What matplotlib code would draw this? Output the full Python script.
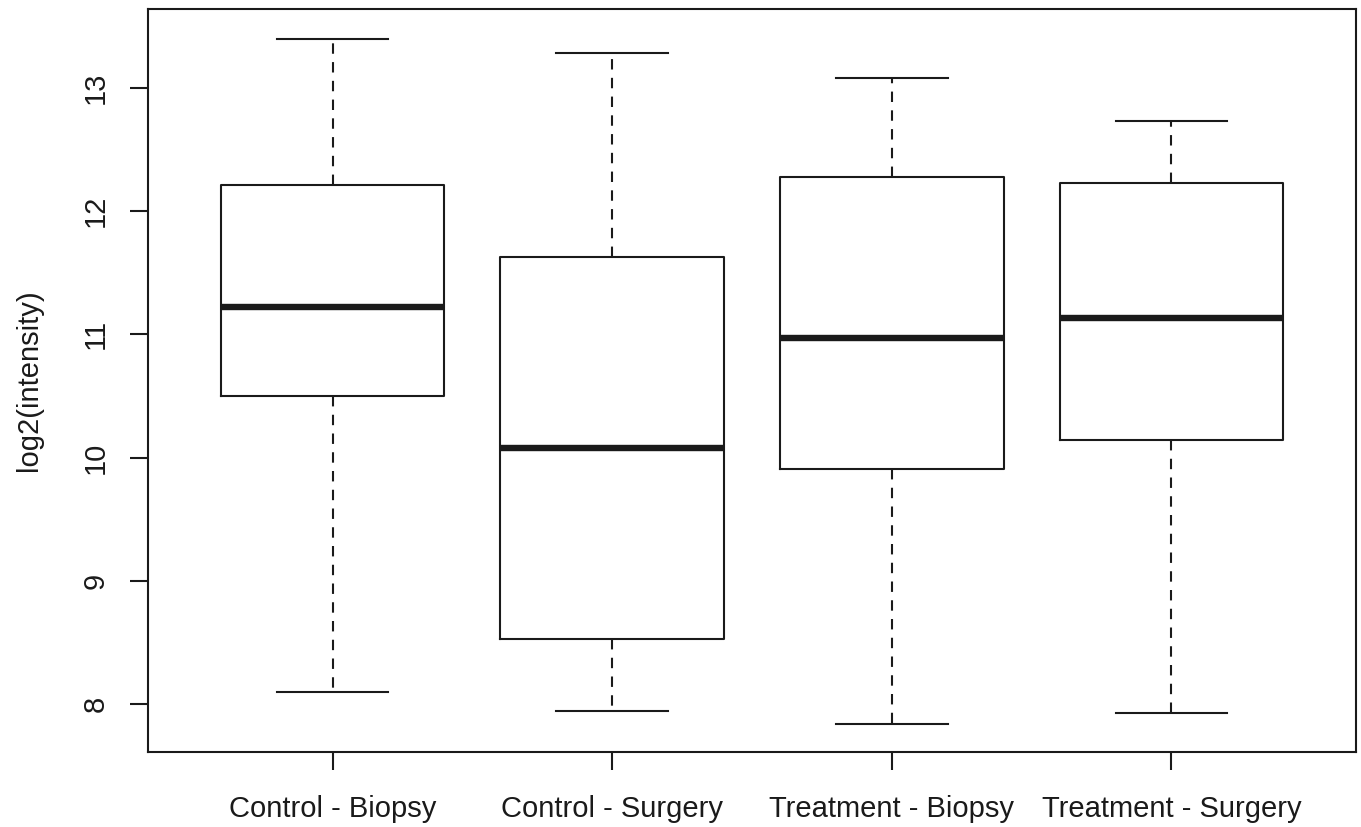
import matplotlib
matplotlib.use("Agg")
import matplotlib.pyplot as plt

groups = ["Control - Biopsy", "Control - Surgery", "Treatment - Biopsy", "Treatment - Surgery"]
whisker_lo = [8.10, 7.94, 7.84, 7.93]
q1 = [10.50, 8.53, 9.91, 10.14]
median = [11.22, 10.08, 10.97, 11.13]
q3 = [12.21, 11.63, 12.28, 12.23]
whisker_hi = [13.40, 13.28, 13.08, 12.73]
yticks = [8, 9, 10, 11, 12, 13]

plt.rcParams.update({"font.family": ["Liberation Sans", "DejaVu Sans"],
                     "font.size": 21})

fig = plt.figure(figsize=(13.61, 8.27), dpi=100)
ax = fig.add_axes([148 / 1361, 1 - 752 / 827, (1356 - 148) / 1361, (752 - 9) / 827])

stats = [dict(label=g, whislo=lo, q1=a, med=m, q3=b, whishi=hi, fliers=[])
         for g, lo, a, m, b, hi in zip(groups, whisker_lo, q1, median, q3, whisker_hi)]
ax.bxp(stats, positions=range(1, 5), widths=0.8, patch_artist=False,
       boxprops=dict(color="#1a1a1a", lw=1.5),
       medianprops=dict(color="#1a1a1a", lw=4.6, solid_capstyle="butt"),
       whiskerprops=dict(color="#1a1a1a", lw=1.5, linestyle=(0, (5, 4))),
       capprops=dict(color="#1a1a1a", lw=1.5), capwidths=0.4)

# R-style limits: 4% padding around the data range
ax.set_xlim(0.34, 4.66)
ax.set_ylim(7.611, 13.64)
ax.set_yticks(yticks)
ax.set_yticklabels([str(t) for t in yticks], rotation=90, va="center")
ax.set_xticks(range(1, 5))
ax.set_xticklabels(groups)
ax.tick_params(length=13, width=1.5, color="#1a1a1a", labelcolor="#1a1a1a")
ax.tick_params(axis="x", pad=18)
ax.tick_params(axis="y", pad=14.5)
for s in ax.spines.values():
    s.set_linewidth(1.5)
    s.set_color("#1a1a1a")
ax.set_ylabel("log2(intensity)", color="#1a1a1a", labelpad=28)

fig.savefig("out.png", dpi=100)
